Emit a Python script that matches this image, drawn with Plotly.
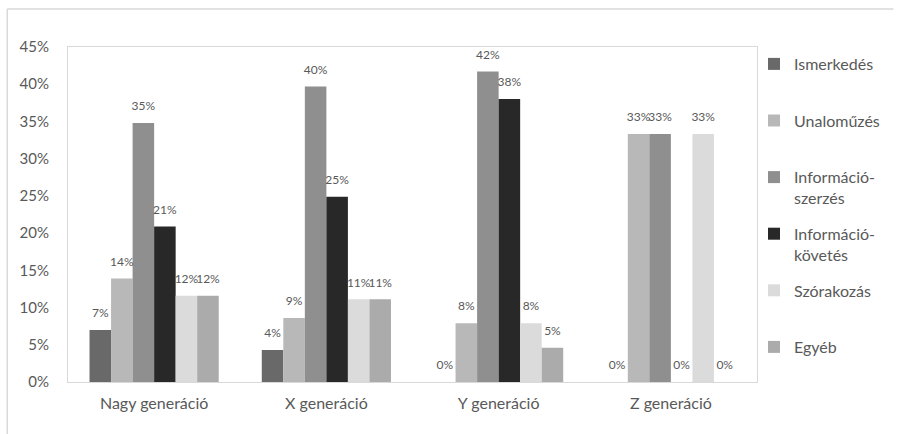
import plotly.graph_objects as go

categories = ["Nagy generáció", "X generáció", "Y generáció", "Z generáció"]
series_names = ["Ismerkedés", "Unaloműzés", "Információ-<br>szerzés", "Információ-<br>követés", "Szórakozás", "Egyéb"]
ismerkedes = [0.07, 0.043, 0.0, 0.0]
unalomuzes = [0.139, 0.086, 0.079, 0.333]
info_szerzes = [0.348, 0.397, 0.417, 0.333]
info_kovetes = [0.209, 0.249, 0.38, 0.0]
szorakozas = [0.116, 0.111, 0.079, 0.333]
egyeb = [0.116, 0.111, 0.046, 0.0]
series_values = [ismerkedes, unalomuzes, info_szerzes, info_kovetes, szorakozas, egyeb]
colors = ["#696969", "#b8b8b8", "#8f8f8f", "#282828", "#dbdbdb", "#ababab"]
y_ticks = [0, 0.05, 0.10, 0.15, 0.20, 0.25, 0.30, 0.35, 0.40, 0.45]

FONT = "Lato"
W, H = 897, 434
L, R, T, B = 68, 137, 47, 52

fig = go.Figure()
for i, (name, vals, col) in enumerate(zip(series_names, series_values, colors)):
    label = name if "<br>" in name else name + "<br> "
    fig.add_trace(go.Bar(
        x=categories, y=vals, name=label, marker=dict(color=col, line=dict(width=0)),
        offsetgroup=str(i), alignmentgroup="a",
        legendgroup=f"g{i}",
    ))
for i, vals in enumerate(series_values):
    fig.add_trace(go.Scatter(
        x=categories, y=vals, mode="markers+text",
        marker=dict(size=14, opacity=0),
        text=[f"{round(v*100)}%" for v in vals], textposition="top center",
        textfont=dict(family=FONT, size=12, color="#595959"),
        offsetgroup=str(i), alignmentgroup="a",
        showlegend=False, hoverinfo="skip", cliponaxis=False,
    ))

pw = W - L - R
ph = H - T - B
def px(x):
    return (x - L) / pw
def py(y):
    return (H - B - y) / ph

fig.update_layout(
    width=W, height=H,
    margin=dict(l=L, r=R, t=T, b=B),
    paper_bgcolor="white", plot_bgcolor="white",
    barmode="group", bargap=0.25, bargroupgap=0,
    scattermode="group", scattergap=0.25,
    font=dict(family=FONT, color="#595959"),
    legend=dict(
        x=px(757), xanchor="left", y=py(47), yanchor="top",
        font=dict(family=FONT, size=16, color="#595959"),
        traceorder="grouped", tracegroupgap=12, valign="top",
        bgcolor="rgba(0,0,0,0)", itemwidth=30, maxheight=430,
    ),
    xaxis=dict(
        showline=True, linecolor="#d9d9d9", linewidth=1, mirror=True,
        showgrid=False, ticks="", tickfont=dict(family=FONT, size=16, color="#595959"),
        ticklabelstandoff=7,
    ),
    yaxis=dict(
        range=[0, 0.45], tickvals=y_ticks, tickformat=".0%",
        showline=True, linecolor="#d9d9d9", linewidth=1, mirror=True,
        showgrid=False, zeroline=False, ticks="",
        tickfont=dict(family=FONT, size=15, color="#595959"),
        ticklabelstandoff=15,
    ),
    shapes=[
        dict(type="line", xref="paper", yref="paper", x0=px(7), x1=px(7), y0=py(H), y1=py(9),
             line=dict(color="#d9d9d9", width=1.5)),
        dict(type="line", xref="paper", yref="paper", x0=px(7), x1=px(W), y0=py(9), y1=py(9),
             line=dict(color="#d9d9d9", width=1.5)),
    ],
)

fig.write_html("out.html")
